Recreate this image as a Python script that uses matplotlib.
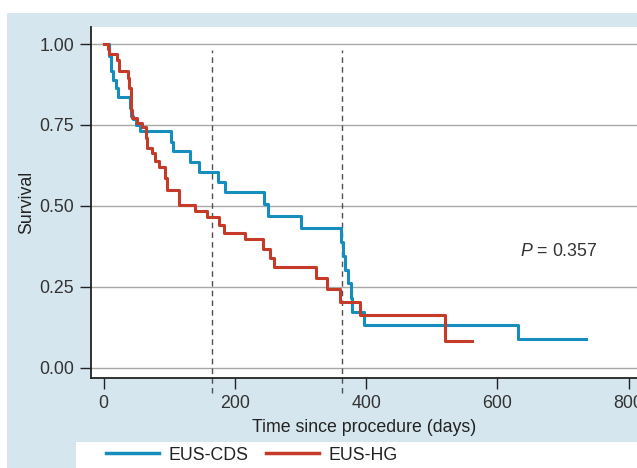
import matplotlib
matplotlib.use("Agg")
import matplotlib.pyplot as plt
from matplotlib.patches import Rectangle
from matplotlib.lines import Line2D

plt.rcParams["font.family"] = ["Liberation Sans", "DejaVu Sans"]
plt.rcParams["mathtext.fontset"] = "custom"
plt.rcParams["mathtext.it"] = "Liberation Sans:italic"
plt.rcParams["mathtext.rm"] = "Liberation Sans"

# Kaplan-Meier steps (day of drop, survival after drop)
cds_days = [0, 8, 12, 14, 19, 22, 40, 42, 45, 50, 55, 102, 105, 131, 145, 174, 185,
            245, 251, 300, 362, 364, 368, 372, 377, 379, 397, 632, 735]
cds_surv = [1.0, 0.962, 0.916, 0.890, 0.864, 0.835, 0.802, 0.777, 0.767, 0.751, 0.730,
            0.698, 0.670, 0.637, 0.606, 0.575, 0.544, 0.506, 0.470, 0.431, 0.388,
            0.345, 0.302, 0.261, 0.217, 0.174, 0.133, 0.090, 0.090]

hg_days = [0, 6, 8, 20, 23, 37, 39, 41, 42, 44, 51, 59, 64, 66, 73, 78, 85, 94, 96,
           115, 139, 157, 176, 184, 215, 243, 254, 259, 324, 340, 360, 391, 520, 562]
hg_surv = [1.0, 0.986, 0.969, 0.952, 0.916, 0.895, 0.864, 0.813, 0.797, 0.772, 0.756,
           0.743, 0.709, 0.678, 0.663, 0.640, 0.621, 0.585, 0.549, 0.503, 0.485, 0.465,
           0.441, 0.418, 0.397, 0.367, 0.339, 0.313, 0.277, 0.244, 0.205, 0.164,
           0.084, 0.084]

marker_days = [165, 363]  # dashed reference lines
y_ticks = [0.0, 0.25, 0.5, 0.75, 1.0]
x_ticks = [0, 200, 400, 600, 800]

blue = "#158dbd"
red = "#c63a28"
panel = "#d6e6ef"

fig = plt.figure(figsize=(6.37, 4.68), dpi=100)
fig.patch.set_facecolor("white")

# light blue panel + white legend strip (drawn behind the axes)
fig.add_artist(Rectangle((7 / 637, 0), 1, (468 - 13) / 468, transform=fig.transFigure,
                         facecolor=panel, edgecolor="none", zorder=-10))
fig.add_artist(Rectangle((76 / 637, 0), 1, 26 / 468, transform=fig.transFigure,
                         facecolor="white", edgecolor="none", zorder=-9))

ax = fig.add_axes([91 / 637, 1 - 378 / 468, 1 - 91 / 637, (378 - 27) / 468])
ax.set_zorder(5)
ax.set_facecolor("white")

for y in y_ticks:
    ax.axhline(y, color="#a8a8a8", lw=1, zorder=1)

for d in marker_days:
    ax.plot([d, d], [-0.077, 0.981], color="#505050", lw=1, ls=(0, (4, 3)),
            clip_on=False, zorder=2)

ax.step(cds_days, cds_surv, where="post", color=blue, lw=2.2, zorder=3)
ax.step(hg_days, hg_surv, where="post", color=red, lw=2.2, zorder=4)

ax.set_xlim(-19.2, 812.7)
ax.set_ylim(-0.031, 1.0525)
ax.set_xticks(x_ticks)
ax.set_yticks(y_ticks)
ax.set_yticklabels(["%.2f" % v for v in y_ticks])

for s in ["top", "right"]:
    ax.spines[s].set_visible(False)
for s in ["left", "bottom"]:
    ax.spines[s].set_color("#222222")
    ax.spines[s].set_linewidth(1.3)

ax.tick_params(axis="both", length=8, width=1, color="#222222", labelsize=12.8,
               labelcolor="#333333", pad=4)

ax.set_xlabel("Time since procedure (days)", fontsize=12.8, color="#222222", labelpad=5)
ax.set_ylabel("Survival", fontsize=12.8, color="#222222", labelpad=3)

ax.text(634, 0.358, "$P$ = 0.357", fontsize=12.8, color="#333333", va="center", ha="left")

handles = [Line2D([], [], color=blue, lw=2.5), Line2D([], [], color=red, lw=2.5)]
fig.legend(handles, ["EUS-CDS", "EUS-HG"], loc="center left",
           bbox_to_anchor=(97 / 637, 13 / 468), ncol=2, frameon=False, fontsize=12.8,
           handlelength=3.0, handletextpad=0.5, columnspacing=1.0, borderpad=0,
           labelcolor="#222222")

fig.savefig("out.png", dpi=100)
